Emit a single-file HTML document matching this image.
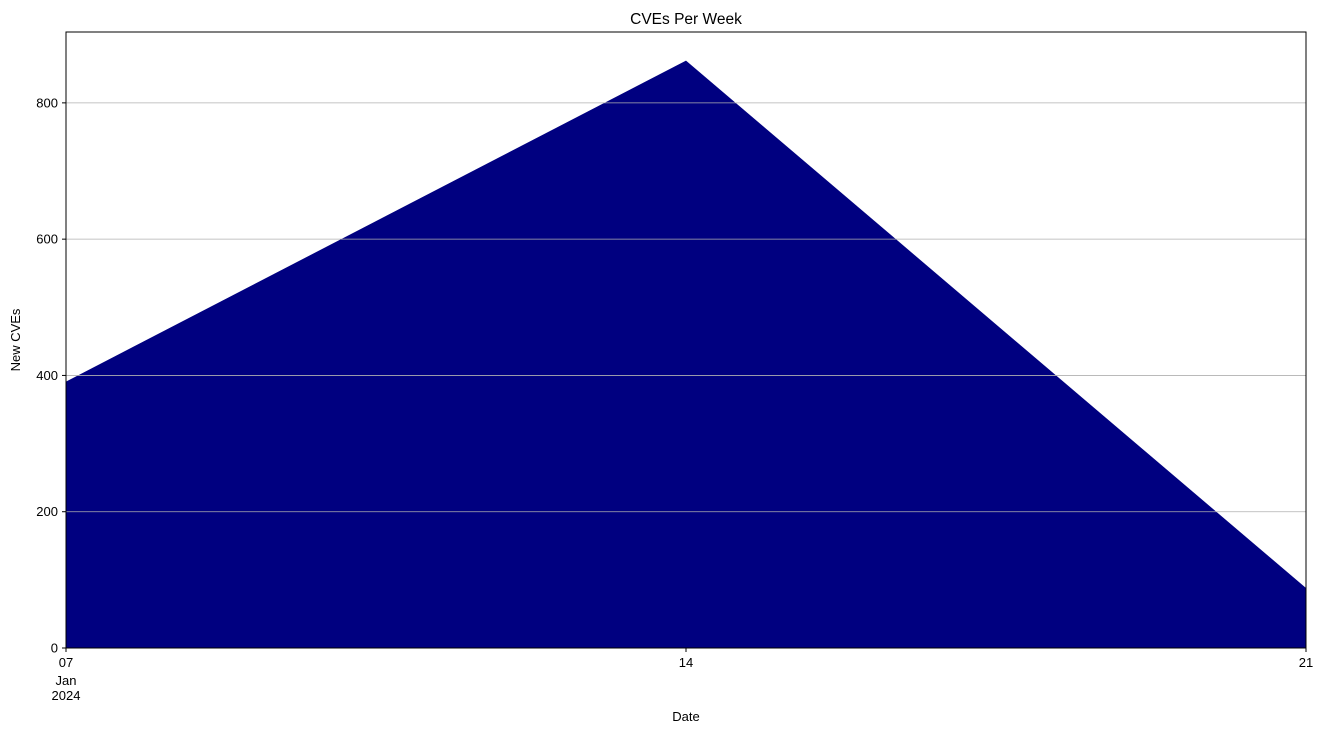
<!DOCTYPE html>
<html><head><meta charset="utf-8"><style>
body{margin:0;background:#fff;}
svg text{font-family:"Liberation Sans","DejaVu Sans",sans-serif;font-size:13px;fill:#000;}
</style></head><body>
<svg id="chart" width="1324" height="734" xmlns="http://www.w3.org/2000/svg">
<rect width="1324" height="734" fill="#fff"/>
<text x="686" y="24" text-anchor="middle" style="font-size:15.5px">CVEs Per Week</text>
<g id="area"></g>
<g id="grid"></g>
<g id="yaxis"></g>
<g id="xaxis"></g>
<rect x="66" y="32" width="1240" height="616" fill="none" stroke="#000" stroke-width="1"/>
<text transform="translate(20,340) rotate(-90)" text-anchor="middle">New CVEs</text>
<text x="686" y="721" text-anchor="middle">Date</text>
</svg>
<script>
const categories = ["07", "14", "21"];
const values = [391, 862, 88];
const yTicks = [0, 200, 400, 600, 800];
const NS = "http://www.w3.org/2000/svg";
const L = 66, R = 1306, T = 32, B = 648, YMAX = 904;
function xs(i){ return L + (R - L) * i / (categories.length - 1); }
function ys(v){ return B - (B - T) * v / YMAX; }
function mk(tag, attrs, parent){ const e = document.createElementNS(NS, tag); for (const k in attrs) e.setAttribute(k, attrs[k]); parent.appendChild(e); return e; }
const area = document.getElementById("area");
let d = "M" + xs(0) + "," + B;
values.forEach((v, i) => { d += " L" + xs(i) + "," + ys(v); });
d += " L" + xs(values.length - 1) + "," + B + " Z";
const p = mk("path", {d: d, fill: "#000080"}, area);


const grid = document.getElementById("grid"), yaxis = document.getElementById("yaxis"), xaxis = document.getElementById("xaxis");
yTicks.forEach(t => {
  const y = ys(t);
  if (t > 0) {
    const g = mk("line", {x1: L, x2: R, y1: y, y2: y, stroke: "#b0b0b0", "stroke-width": 0.8}, grid);
    
    
  }
  const tk = mk("line", {x1: L - 4, x2: L, y1: y, y2: y, stroke: "#000"}, yaxis);
  
  
  const tx = mk("text", {x: L - 8, y: y + 4.5, "text-anchor": "end"}, yaxis);
  tx.textContent = t;
  
  
});
categories.forEach((c, i) => {
  const x = xs(i);
  const tk = mk("line", {x1: x, x2: x, y1: B, y2: B + 4, stroke: "#000"}, xaxis);
  
  
  const tx = mk("text", {x: x, y: B + 19, "text-anchor": "middle"}, xaxis);
  tx.textContent = c;
  
  
});
const m = mk("text", {x: xs(0), y: B + 37, "text-anchor": "middle"}, xaxis);
m.textContent = "Jan";


const yr = mk("text", {x: xs(0), y: B + 52, "text-anchor": "middle"}, xaxis);
yr.textContent = "2024";


</script>
</body></html>
